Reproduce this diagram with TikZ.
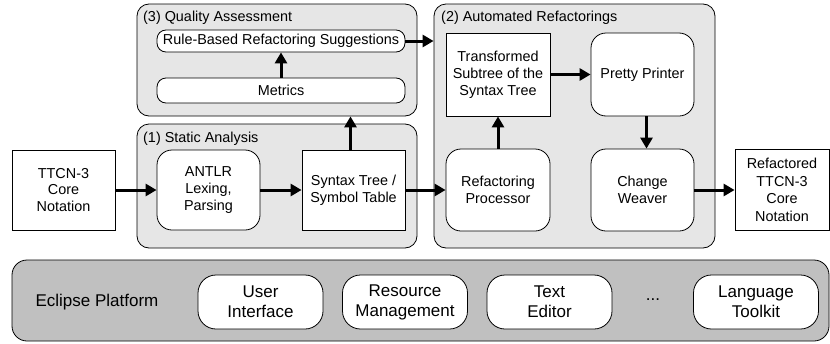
\documentclass[tikz,border=0pt]{standalone}
\usepackage{fontspec}
\setmainfont{Liberation Sans}
\usetikzlibrary{arrows.meta}
\definecolor{grpfill}{HTML}{E6E6E6}
\definecolor{eclfill}{HTML}{C0C0C0}
\tikzset{
  group/.style={draw, line width=0.8pt, fill=grpfill, rounded corners=12pt, inner sep=0pt},
  plat/.style={draw, line width=0.8pt, fill=eclfill, rounded corners=15pt, inner sep=0pt},
  sqbox/.style={draw, line width=0.8pt, fill=white, inner sep=0pt, align=center, font=\fontsize{14.4}{16.8}\selectfont},
  rbox/.style={sqbox, rounded corners=15pt},
  barbox/.style={sqbox, rounded corners=9pt},
  ebox/.style={draw, line width=0.8pt, fill=white, rounded corners=18pt, inner sep=0pt, align=center, minimum width=125pt, minimum height=54pt, font=\fontsize{17}{20}\selectfont},
  title/.style={anchor=west, inner sep=0pt, font=\fontsize{14.4}{16.8}\selectfont},
  flow/.style={line width=3pt, -{Triangle[length=11pt,width=12pt]}},
}
\begin{document}
\begin{tikzpicture}[x=1pt,y=-1pt]
\useasboundingbox (0,0) rectangle (830,343);
% groups
\node[group, minimum width=280pt, minimum height=112pt] (quality) at (277,60) {};
\node[group, minimum width=280pt, minimum height=124pt] (static) at (277,186) {};
\node[group, minimum width=281pt, minimum height=244pt] (auto) at (574.5,126) {};
\node[title] (qt) at (143,18) {(3) Quality Assessment};
\node[title] (st) at (143,139) {(1) Static Analysis};
\node[title] (at) at (441,18) {(2) Automated Refactorings};
% quality assessment
\node[barbox, minimum width=248pt, minimum height=22pt] (rule) at (281,41) {Rule-Based Refactoring Suggestions};
\node[barbox, minimum width=248pt, minimum height=25pt] (metrics) at (281,90.5) {Metrics};
% static analysis
\node[sqbox, minimum width=103pt, minimum height=80pt] (ttcn) at (63.5,190) {TTCN-3\\Core\\Notation};
\node[rbox, minimum width=103pt, minimum height=80pt] (antlr) at (208.5,190) {ANTLR\\Lexing,\\Parsing};
\node[sqbox, minimum width=103pt, minimum height=80pt] (syn) at (353.5,190) {Syntax Tree /\\Symbol Table};
% automated refactorings
\node[sqbox, minimum width=104pt, minimum height=83pt] (trans) at (498,74.5) {Transformed\\Subtree of the\\Syntax Tree};
\node[rbox, minimum width=103pt, minimum height=83pt] (pretty) at (642.5,74.5) {Pretty Printer};
\node[rbox, minimum width=104pt, minimum height=82pt] (proc) at (498,190) {Refactoring\\Processor};
\node[rbox, minimum width=103pt, minimum height=82pt] (weaver) at (642.5,190) {Change\\Weaver};
\node[sqbox, minimum width=94pt, minimum height=81pt, font=\fontsize{14.4}{17.5}\selectfont] (refd) at (782,190) {Refactored\\TTCN-3\\Core\\Notation};
% eclipse platform
\node[plat, minimum width=817pt, minimum height=81pt] (eclipse) at (420.5,300.5) {};
\node[inner sep=0pt, font=\fontsize{17}{20}\selectfont] (ecl) at (97,302) {Eclipse Platform};
\node[ebox] (ui) at (260.5,302) {User\\Interface};
\node[ebox] (rm) at (405,302) {Resource\\Management};
\node[ebox] (te) at (549.5,302) {Text\\Editor};
\node[inner sep=0pt, font=\fontsize{17}{20}\selectfont] (dots) at (653,300) {...};
\node[ebox] (lt) at (756,302) {Language\\Toolkit};
% arrows
\draw[flow] (ttcn.east) -- (antlr.west);
\draw[flow] (antlr.east) -- (syn.west);
\draw[flow] ([xshift=-3pt]syn.north) -- ([xshift=-3pt]syn.north |- quality.south);
\draw[flow] (metrics.north) -- (rule.south);
\draw[flow] (rule.east) -- (rule.east -| auto.west);
\draw[flow] (syn.east) -- (proc.west);
\draw[flow] (proc.north) -- (trans.south);
\draw[flow] (trans.east) -- (pretty.west);
\draw[flow] ([xshift=4pt]pretty.south) -- ([xshift=4pt]weaver.north);
\draw[flow] (weaver.east) -- (refd.west);
\end{tikzpicture}
\end{document}
